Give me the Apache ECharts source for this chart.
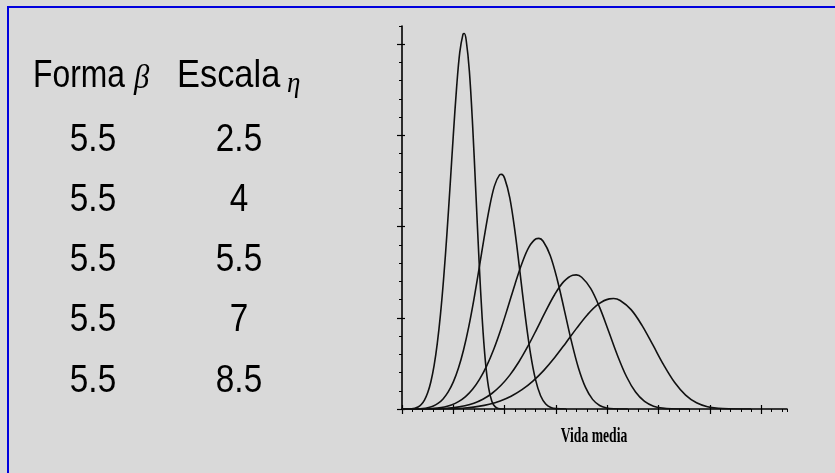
<!DOCTYPE html>
<html>
<head>
<meta charset="utf-8">
<script src="https://cdn.jsdelivr.net/npm/echarts@6/dist/echarts.min.js"></script>
<style>
html,body{margin:0;padding:0;background:#d9d9d9;}
#chart{width:835px;height:473px;}
</style>
</head>
<body>
<div id="chart"></div>
<script>
// ---- data ----
const formaValues = ['5.5', '5.5', '5.5', '5.5', '5.5'];
const escalaValues = ['2.5', '4', '5.5', '7', '8.5'];
const xAxisTitle = 'Vida media';
const xMajorTicks = [0, 2, 4, 6, 8, 10, 12, 14];
const yMajorTicks = [0, 0.2, 0.4, 0.6, 0.8];

const xEta25 = [0, 0.375, 0.5, 0.625, 0.75, 0.875, 1.0, 1.125, 1.25, 1.375, 1.5, 1.625, 1.75, 1.875, 2.0, 2.125, 2.25, 2.375, 2.425, 2.5, 2.625, 2.75, 2.875, 3.0, 3.125, 3.25, 3.375, 3.5, 3.625, 3.75, 4.0];
const yEta25 = [0, 0.0004, 0.0016, 0.0043, 0.0098, 0.0195, 0.0354, 0.0598, 0.0951, 0.1438, 0.2080, 0.2884, 0.3840, 0.4908, 0.6012, 0.7033, 0.7821, 0.8216, 0.8234, 0.8093, 0.7410, 0.6240, 0.4774, 0.3274, 0.1980, 0.1040, 0.0463, 0.0172, 0.0052, 0.0012, 0];

const xEta4 = [0, 0.6, 0.8, 1.0, 1.2, 1.4, 1.6, 1.8, 2.0, 2.2, 2.4, 2.6, 2.8, 3.0, 3.2, 3.4, 3.6, 3.8, 3.88, 4.0, 4.2, 4.4, 4.6, 4.8, 5.0, 5.2, 5.4, 5.6, 5.8, 6.0, 6.4];
const yEta4 = [0, 0.0003, 0.0010, 0.0027, 0.0061, 0.0122, 0.0221, 0.0374, 0.0594, 0.0899, 0.1300, 0.1802, 0.2400, 0.3068, 0.3758, 0.4396, 0.4888, 0.5135, 0.5146, 0.5058, 0.4631, 0.3900, 0.2984, 0.2046, 0.1238, 0.0650, 0.0290, 0.0108, 0.0033, 0.0008, 0];

const xEta55 = [0, 0.825, 1.1, 1.375, 1.65, 1.925, 2.2, 2.475, 2.75, 3.025, 3.3, 3.575, 3.85, 4.125, 4.4, 4.675, 4.95, 5.225, 5.335, 5.5, 5.775, 6.05, 6.325, 6.6, 6.875, 7.15, 7.425, 7.7, 7.975, 8.25, 8.8];
const yEta55 = [0, 0.0002, 0.0007, 0.0019, 0.0044, 0.0089, 0.0161, 0.0272, 0.0432, 0.0654, 0.0945, 0.1311, 0.1745, 0.2231, 0.2733, 0.3197, 0.3555, 0.3734, 0.3743, 0.3679, 0.3368, 0.2836, 0.2170, 0.1488, 0.0900, 0.0473, 0.0211, 0.0078, 0.0024, 0.0006, 0];

const xEta7 = [0, 1.05, 1.4, 1.75, 2.1, 2.45, 2.8, 3.15, 3.5, 3.85, 4.2, 4.55, 4.9, 5.25, 5.6, 5.95, 6.3, 6.65, 6.79, 7.0, 7.35, 7.7, 8.05, 8.4, 8.75, 9.1, 9.45, 9.8, 10.15, 10.5, 11.2];
const yEta7 = [0, 0.0002, 0.0006, 0.0015, 0.0035, 0.0070, 0.0126, 0.0214, 0.0340, 0.0514, 0.0743, 0.1030, 0.1371, 0.1753, 0.2147, 0.2512, 0.2793, 0.2934, 0.2941, 0.2890, 0.2646, 0.2228, 0.1705, 0.1169, 0.0707, 0.0371, 0.0165, 0.0062, 0.0019, 0.0004, 0];

const xEta85 = [0, 1.275, 1.7, 2.125, 2.55, 2.975, 3.4, 3.825, 4.25, 4.675, 5.1, 5.525, 5.95, 6.375, 6.8, 7.225, 7.65, 8.075, 8.245, 8.5, 8.925, 9.35, 9.775, 10.2, 10.625, 11.05, 11.475, 11.9, 12.325, 12.75, 13.6];
const yEta85 = [0, 0.0001, 0.0005, 0.0013, 0.0029, 0.0057, 0.0104, 0.0176, 0.0280, 0.0423, 0.0612, 0.0848, 0.1129, 0.1444, 0.1768, 0.2069, 0.2300, 0.2416, 0.2422, 0.2380, 0.2179, 0.1835, 0.1404, 0.0963, 0.0582, 0.0306, 0.0136, 0.0051, 0.0015, 0.0004, 0];

const curves = [
  [xEta25, yEta25], [xEta4, yEta4], [xEta55, yEta55], [xEta7, yEta7], [xEta85, yEta85]
];

// ---- chart ----
const chart = echarts.init(document.getElementById('chart'), null, {renderer: 'canvas'});
const ink = '#000';
const SANS = "'Liberation Sans', Arial, sans-serif";
const SERIF = "'Liberation Serif', 'Times New Roman', serif";

function xAxisDef(opts) {
  return Object.assign({
    type: 'value', min: 0, max: 15, position: 'bottom', gridIndex: 0,
    axisLabel: {show: false}, splitLine: {show: false}, axisLine: {show: false}
  }, opts);
}
function yAxisDef(opts) {
  return Object.assign({
    type: 'value', min: 0, max: 0.84, position: 'left', gridIndex: 0,
    axisLabel: {show: false}, splitLine: {show: false}, axisLine: {show: false}
  }, opts);
}

const rowY = [140, 200, 260, 320, 381];
const graphics = [
  {type: 'polyline', shape: {points: [[8, 480], [8, 7], [840, 7]]}, style: {stroke: '#0000dd', lineWidth: 2, fill: null}, silent: true},
  {type: 'text', x: 33, y: 76, scaleX: 0.86, scaleY: 1.05, style: {text: 'Forma', font: '37px ' + SANS, fill: ink, align: 'left', verticalAlign: 'middle'}},
  {type: 'text', x: 134, y: 79, scaleX: 0.9, style: {text: 'β', font: 'italic 34px ' + SERIF, fill: ink, align: 'left', verticalAlign: 'middle'}},
  {type: 'text', x: 177, y: 76, scaleX: 0.93, scaleY: 1.05, style: {text: 'Escala', font: '37px ' + SANS, fill: ink, align: 'left', verticalAlign: 'middle'}},
  {type: 'text', x: 287, y: 84, scaleX: 0.9, style: {text: 'η', font: 'italic 30px ' + SERIF, fill: ink, align: 'left', verticalAlign: 'middle'}},
  {type: 'text', x: 594, y: 436, scaleX: 0.62, style: {text: xAxisTitle, font: 'bold 22px ' + SERIF, fill: ink, align: 'center', verticalAlign: 'middle'}}
];
formaValues.forEach((v, i) => {
  graphics.push({type: 'text', x: 93, y: rowY[i], scaleX: 0.9, scaleY: 1.05, style: {text: v, font: '37px ' + SANS, fill: ink, align: 'center', verticalAlign: 'middle'}});
});
escalaValues.forEach((v, i) => {
  graphics.push({type: 'text', x: 239, y: rowY[i], scaleX: 0.9, scaleY: 1.05, style: {text: v, font: '37px ' + SANS, fill: ink, align: 'center', verticalAlign: 'middle'}});
});

chart.setOption({
  backgroundColor: '#d9d9d9',
  animation: false,
  grid: {left: 402, right: 48, top: 26, bottom: 64, containLabel: false},
  xAxis: [
    xAxisDef({interval: 0.4, axisLine: {show: true, onZero: false, lineStyle: {color: ink, width: 1.6}},
      axisTick: {show: true, inside: false, length: 3, lineStyle: {color: ink, width: 1}}}),
    xAxisDef({interval: 2, axisTick: {show: true, inside: false, length: 5, customValues: xMajorTicks, lineStyle: {color: ink, width: 1.2}}}),
    xAxisDef({interval: 2, axisTick: {show: true, inside: true, length: 4, customValues: xMajorTicks, lineStyle: {color: ink, width: 1.2}}})
  ],
  yAxis: [
    yAxisDef({interval: 0.04, axisLine: {show: true, onZero: false, lineStyle: {color: ink, width: 1.6}},
      axisTick: {show: true, inside: false, length: 3, lineStyle: {color: ink, width: 1}}}),
    yAxisDef({interval: 0.2, axisTick: {show: true, inside: false, length: 5, customValues: yMajorTicks, lineStyle: {color: ink, width: 1.2}}}),
    yAxisDef({interval: 0.2, axisTick: {show: true, inside: true, length: 3, customValues: yMajorTicks, lineStyle: {color: ink, width: 1.2}}})
  ],
  series: curves.map(([xs, ys], k) => ({
    type: 'line', xAxisIndex: 0, yAxisIndex: 0, name: 'eta' + escalaValues[k],
    data: xs.map((x, i) => [x, ys[i]]),
    showSymbol: false, smooth: 0.35, silent: true,
    lineStyle: {color: '#111', width: 1.6}
  })),
  graphic: graphics
});
</script>
</body>
</html>
